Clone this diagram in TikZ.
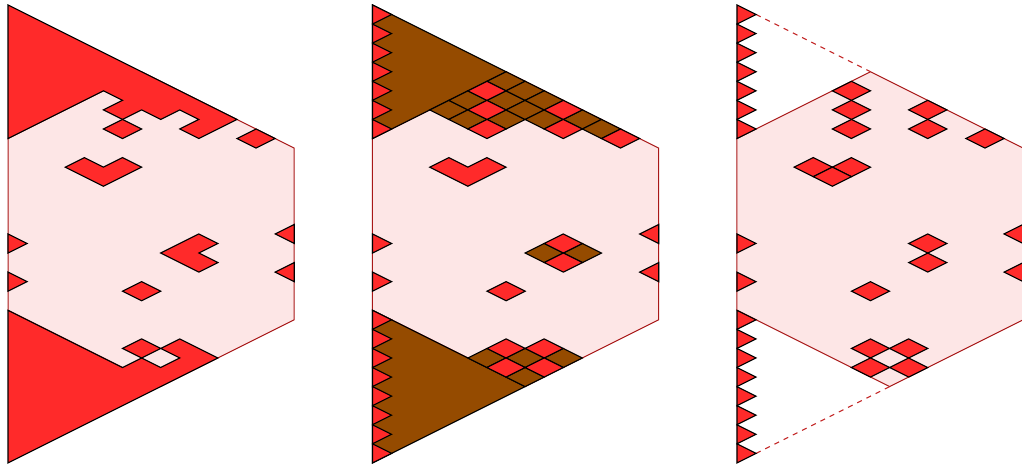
\documentclass[tikz,border=0pt]{standalone}
\usepackage{tikz}
\usepackage{xcolor}
\definecolor{tilered}{HTML}{FF2A2A}
\definecolor{tilebrown}{HTML}{954B00}
\definecolor{hexpink}{HTML}{FDE6E6}
\definecolor{hexline}{HTML}{A81818}
\definecolor{cutred}{HTML}{C42A2A}
\tikzset{
  hexregion/.style={fill=hexpink,draw=hexline,line width=0.45pt},
  redtile/.style={fill=tilered,draw=black,line width=0.5pt},
  browntile/.style={fill=tilebrown,draw=black,line width=0.5pt},
  cutedge/.style={draw=cutred,line width=0.5pt,dash pattern=on 2.3pt off 2.3pt}
}
\newcommand{\tile}[3]{\path[#1] (#2,#3) -- ++(1,0.5) -- ++(1,-0.5) -- ++(-1,-0.5) -- cycle;}
\newcommand{\tooth}[1]{\path[redtile] (0,#1) -- ++(1,0.5) -- ++(-1,0.5) -- cycle;}
\newcommand{\rtooth}[1]{\path[redtile] (15,#1) -- ++(-1,0.5) -- ++(1,0.5) -- cycle;}
\newcommand{\hexbase}{\path[hexregion] (0,8) -- (0,17) -- (7,20.5) -- (15,16.5) -- (15,7.5) -- (8,4) -- cycle;}

\begin{document}
\begin{tikzpicture}[x=0.3cm,y=0.3cm]
    \path[use as bounding box] (-0.42,-0.26) rectangle (53.14,24.26);

    % left panel
    \begin{scope}
      \hexbase
      \path[redtile] (0,24) -- (12,18) -- (10,17) -- (9,17.5) -- (10,18) -- (9,18.5)
        -- (8,18) -- (7,18.5) -- (6,18) -- (5,18.5) -- (6,19) -- (5,19.5) -- (0,17) -- cycle;
      \path[redtile] (0,0) -- (0,8) -- (6,5) -- (7,5.5) -- (8,5) -- (9,5.5) -- (8,6)
        -- (9,6.5) -- (11,5.5) -- cycle;
      \path[redtile] (3,15.5) -- (4,16) -- (5,15.5) -- (6,16) -- (7,15.5) -- (5,14.5) -- cycle;
      \path[redtile] (8,11) -- (10,12) -- (11,11.5) -- (10,11) -- (11,10.5) -- (10,10) -- cycle;
      \foreach \p/\q in {5/17.5,12/17,6/9,6/6}
        {\tile{redtile}{\p}{\q}}
      \foreach \q in {9,11} {\tooth{\q}}
      \foreach \q in {9.5,11.5} {\rtooth{\q}}
    \end{scope}

    % middle panel
    \begin{scope}[shift={(19.1,0)}]
      \hexbase
      \path[browntile] (0,24) -- (7,20.5) -- (0,17) -- cycle;
      \path[browntile] (0,0) -- (0,8) -- (8,4) -- cycle;
      \foreach \p/\q in {3/18.5,4/19,4/18,6/20,6/19,6/18,7/19.5,7/18.5,8/19,8/18,
                         10/18,11/17.5,8/11,10/11,5/5.5,7/5.5,7/4.5,9/5.5}
        {\tile{browntile}{\p}{\q}}
      \foreach \p/\q in {5/19.5,5/18.5,5/17.5,9/18.5,9/17.5,12/17,
                         9/11.5,9/10.5,6/9,6/6,8/6,6/5,8/5}
        {\tile{redtile}{\p}{\q}}
      \path[redtile] (3,15.5) -- (4,16) -- (5,15.5) -- (6,16) -- (7,15.5) -- (5,14.5) -- cycle;
      \foreach \q in {0,...,7,9,11,17,18,...,23} {\tooth{\q}}
      \foreach \q in {9.5,11.5} {\rtooth{\q}}
    \end{scope}

    % right panel
    \begin{scope}[shift={(38.2,0)}]
      \hexbase
      \path[cutedge] (1,23.5) -- (7,20.5);
      \path[cutedge] (1,0.5) -- (8,4);
      \foreach \p/\q in {5/19.5,5/18.5,5/17.5,9/18.5,9/17.5,12/17,3/15.5,5/15.5,4/15,
                         9/11.5,9/10.5,6/9,6/6,8/6,6/5,8/5}
        {\tile{redtile}{\p}{\q}}
      \foreach \q in {0,...,7,9,11,17,18,...,23} {\tooth{\q}}
      \foreach \q in {9.5,11.5} {\rtooth{\q}}
    \end{scope}
  \end{tikzpicture}
\end{document}
